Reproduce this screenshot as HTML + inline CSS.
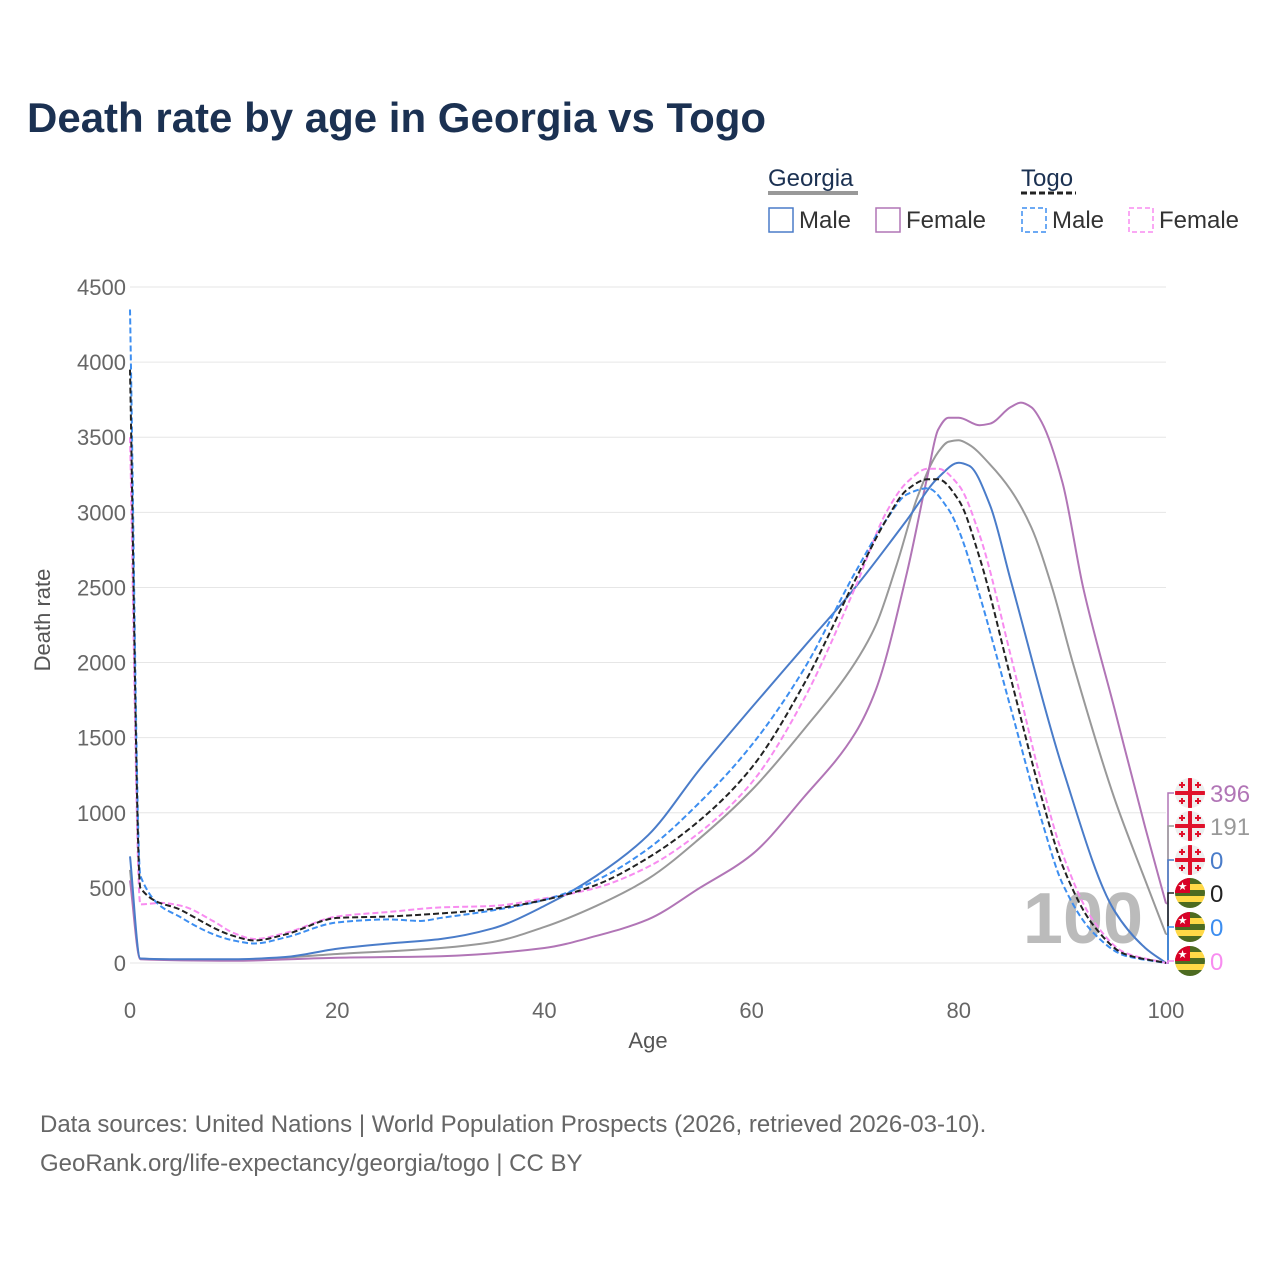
<!DOCTYPE html>
<html><head><meta charset="utf-8"><style>
body{margin:0;background:#fff;font-family:"Liberation Sans",sans-serif}
</style></head><body>
<svg id="c" width="1280" height="1280" xmlns="http://www.w3.org/2000/svg" font-family="Liberation Sans, sans-serif">
<text x="27" y="132" font-size="42" font-weight="bold" fill="#1b3152">Death rate by age in Georgia vs Togo</text>
<g font-size="24">
<text x="768" y="186" fill="#1b3152">Georgia</text>
<line x1="768" y1="193" x2="858" y2="193" stroke="#999" stroke-width="4"/>
<text x="1021" y="186" fill="#1b3152">Togo</text>
<line x1="1021" y1="193" x2="1076" y2="193" stroke="#222" stroke-width="3" stroke-dasharray="6,3"/>
<g><rect x="769" y="208" width="24" height="24" fill="none" stroke="#4a7cc9" stroke-width="1.5"/><text x="799" y="228" fill="#333">Male</text></g>
<g><rect x="876" y="208" width="24" height="24" fill="none" stroke="#b175b6" stroke-width="1.5"/><text x="906" y="228" fill="#333">Female</text></g>
<g><rect x="1022" y="208" width="24" height="24" fill="none" stroke="#3d8ef0" stroke-width="1.5" stroke-dasharray="5,3"/><text x="1052" y="228" fill="#333">Male</text></g>
<g><rect x="1129" y="208" width="24" height="24" fill="none" stroke="#f88cf0" stroke-width="1.5" stroke-dasharray="5,3"/><text x="1159" y="228" fill="#333">Female</text></g>
</g>
<g id="grid"></g>
<text x="1083" y="943" font-size="72" font-weight="bold" fill="#bbb" text-anchor="middle">100</text>
<g id="series"></g>
<g id="ends"></g>
<text x="50" y="620" font-size="22" fill="#555" transform="rotate(-90 50 620)" text-anchor="middle">Death rate</text>
<text x="648" y="1048" font-size="22" fill="#555" text-anchor="middle">Age</text>
<text x="40" y="1132" font-size="24" fill="#666">Data sources: United Nations | World Population Prospects (2026, retrieved 2026-03-10).</text>
<text x="40" y="1171" font-size="24" fill="#666">GeoRank.org/life-expectancy/georgia/togo | CC BY</text>
</svg>
<script>
const yTicks=[0,500,1000,1500,2000,2500,3000,3500,4000,4500];
const xTicks=[0,20,40,60,80,100];
const geoMaleAge=[0,1,5,10,15,20,25,30,35,40,45,50,55,60,65,70,75,78,80,81,83,85,90,95,98,100];
const geoMale=[710,30,25,25,40,95,130,160,230,380,580,850,1290,1700,2100,2500,2950,3230,3330,3310,3050,2550,1300,350,100,0];
const geoFemAge=[0,1,10,20,30,40,45,50,55,60,65,70,72,75,77,78,79,80,82,83,85,86,87,88,90,92,95,98,100];
const geoFem=[550,25,15,35,45,100,180,290,500,720,1100,1530,1820,2600,3250,3550,3630,3630,3580,3590,3700,3730,3700,3600,3200,2500,1700,900,396];
const geoAllAge=[0,1,10,20,30,35,40,45,50,55,60,65,70,72,74,76,78,79,80,81,83,85,87,89,91,95,98,100];
const geoAll=[620,28,20,60,100,140,240,380,560,830,1150,1550,2000,2250,2650,3100,3400,3470,3480,3450,3320,3150,2900,2500,2000,1100,550,191];
const togoMaleAge=[0,1,5,10,12,15,20,25,28,30,35,40,45,50,55,60,65,70,73,75,77,79,80,82,85,88,90,93,96,100];
const togoMale=[4350,580,300,150,130,170,270,290,280,300,350,420,550,760,1070,1450,1950,2600,2950,3120,3160,3020,2880,2450,1700,950,530,200,50,0];
const togoAllAge=[0,1,5,10,12,15,20,25,30,35,40,45,50,55,60,65,70,73,75,77,78,80,82,85,88,90,93,96,100];
const togoAll=[3950,500,350,180,150,190,300,310,330,360,420,520,700,950,1300,1850,2550,2950,3150,3220,3220,3080,2700,1900,1100,650,250,60,0];
const togoFemAge=[0,1,3,5,8,10,12,15,20,25,30,35,40,45,50,55,60,65,70,73,75,77,78,80,82,85,88,90,93,96,100];
const togoFem=[3500,390,400,380,280,200,160,200,310,340,370,380,430,500,640,870,1200,1750,2500,3000,3200,3290,3290,3180,2850,2050,1200,730,280,70,0];
const endLabels=["396","191","0","0","0","0"];

const X=a=>130+a*10.36, Y=v=>963-v*0.150222;
const NS="http://www.w3.org/2000/svg";
function mk(t,at,p){const e=document.createElementNS(NS,t);for(const k in at)e.setAttribute(k,at[k]);p.appendChild(e);return e;}
const grid=document.getElementById('grid');
yTicks.forEach(v=>{
 mk('line',{x1:130,x2:1166,y1:Y(v),y2:Y(v),stroke:'#e6e6e6','stroke-width':1},grid);
 const t=mk('text',{x:126,y:Y(v)+8,'font-size':22,fill:'#666','text-anchor':'end'},grid);
 
 
 t.textContent=v;
});
xTicks.forEach(v=>{
 const t=mk('text',{x:X(v),y:1018,'font-size':22,fill:'#666','text-anchor':'middle'},grid);
 
 
 t.textContent=v;
});
function path(ages,vals){
 const x=ages.map(X),y=vals.map(Y),n=x.length;
 const dx=[],s=[];
 for(let i=0;i<n-1;i++){dx[i]=x[i+1]-x[i];s[i]=(y[i+1]-y[i])/dx[i];}
 const m=[s[0]];
 for(let i=1;i<n-1;i++){
  if(s[i-1]*s[i]<=0)m[i]=0;
  else{const w1=2*dx[i]+dx[i-1],w2=dx[i]+2*dx[i-1];m[i]=(w1+w2)/(w1/s[i-1]+w2/s[i]);}
 }
 m[n-1]=s[n-2];
 let d='M'+x[0]+','+y[0];
 for(let i=0;i<n-1;i++){
  const h=dx[i]/3;
  d+=` C${x[i]+h},${y[i]+m[i]*h} ${x[i+1]-h},${y[i+1]-m[i+1]*h} ${x[i+1]},${y[i+1]}`;
 }
 return d;
}
const S=document.getElementById('series');
const defs=[
 [geoAllAge,geoAll,'#999',null,'series-georgia-total'],
 [geoFemAge,geoFem,'#b175b6',null,'series-georgia-female'],
 [geoMaleAge,geoMale,'#4a7cc9',null,'series-georgia-male'],
 [togoFemAge,togoFem,'#f88cf0','6,3','series-togo-female'],
 [togoMaleAge,togoMale,'#3d8ef0','6,3','series-togo-male'],
 [togoAllAge,togoAll,'#222','6,3','series-togo-total']];
defs.forEach(d=>{
 const e=mk('path',{d:path(d[0],d[1]),fill:'none',stroke:d[2],'stroke-width':2},S);
 if(d[3])e.setAttribute('stroke-dasharray',d[3]);
 
 
});
const E=document.getElementById('ends');
const cols=['#b175b6','#999','#4a7cc9','#222','#3d8ef0','#f88cf0'];
const ends=[geoFem,geoAll,geoMale,togoAll,togoMale,togoFem].map(a=>a[a.length-1]);
const ly=[793,826,860,893,927,961];
const defsEl=mk('defs',{},E);
ly.forEach((y,i)=>{
 const g=mk('g',{},E);
 
 
 mk('polyline',{points:`1166,${Y(ends[i])} 1168,${Y(ends[i])} 1168,${y} 1174,${y}`,fill:'none',stroke:cols[i],'stroke-width':1.5},g);
 const cx=1190;
 const cp=mk('clipPath',{id:'cp'+i},defsEl);
 mk('circle',{cx,cy:y,r:15},cp);
 const h=mk('g',{'clip-path':`url(#cp${i})`},g);
 if(i<3){
  mk('rect',{x:cx-15,y:y-15,width:30,height:30,fill:'#eee'},h);
  mk('rect',{x:cx-15,y:y-2,width:30,height:4,fill:'#e0112b'},h);
  mk('rect',{x:cx-2,y:y-15,width:4,height:30,fill:'#e0112b'},h);
  [[-8,-8],[8,-8],[-8,8],[8,8]].forEach(o=>{
   mk('rect',{x:cx+o[0]-3,y:y+o[1]-1,width:6,height:2,fill:'#e0112b'},h);
   mk('rect',{x:cx+o[0]-1,y:y+o[1]-3,width:2,height:6,fill:'#e0112b'},h);});
 }else{
  for(let s=0;s<5;s++)mk('rect',{x:cx-15,y:y-15+s*6,width:30,height:6,fill:s%2?'#ffd947':'#4d6b21'},h);
  mk('rect',{x:cx-15,y:y-15,width:15,height:15,fill:'#d80027'},h);
  mk('text',{x:cx-7.5,y:y-3,'font-size':11,fill:'#fff','text-anchor':'middle'},h).textContent='★';
 }
 const t=mk('text',{x:1210,y:y+9,'font-size':24,fill:cols[i]},g);
 t.textContent=endLabels[i];
});
</script>
</body></html>
